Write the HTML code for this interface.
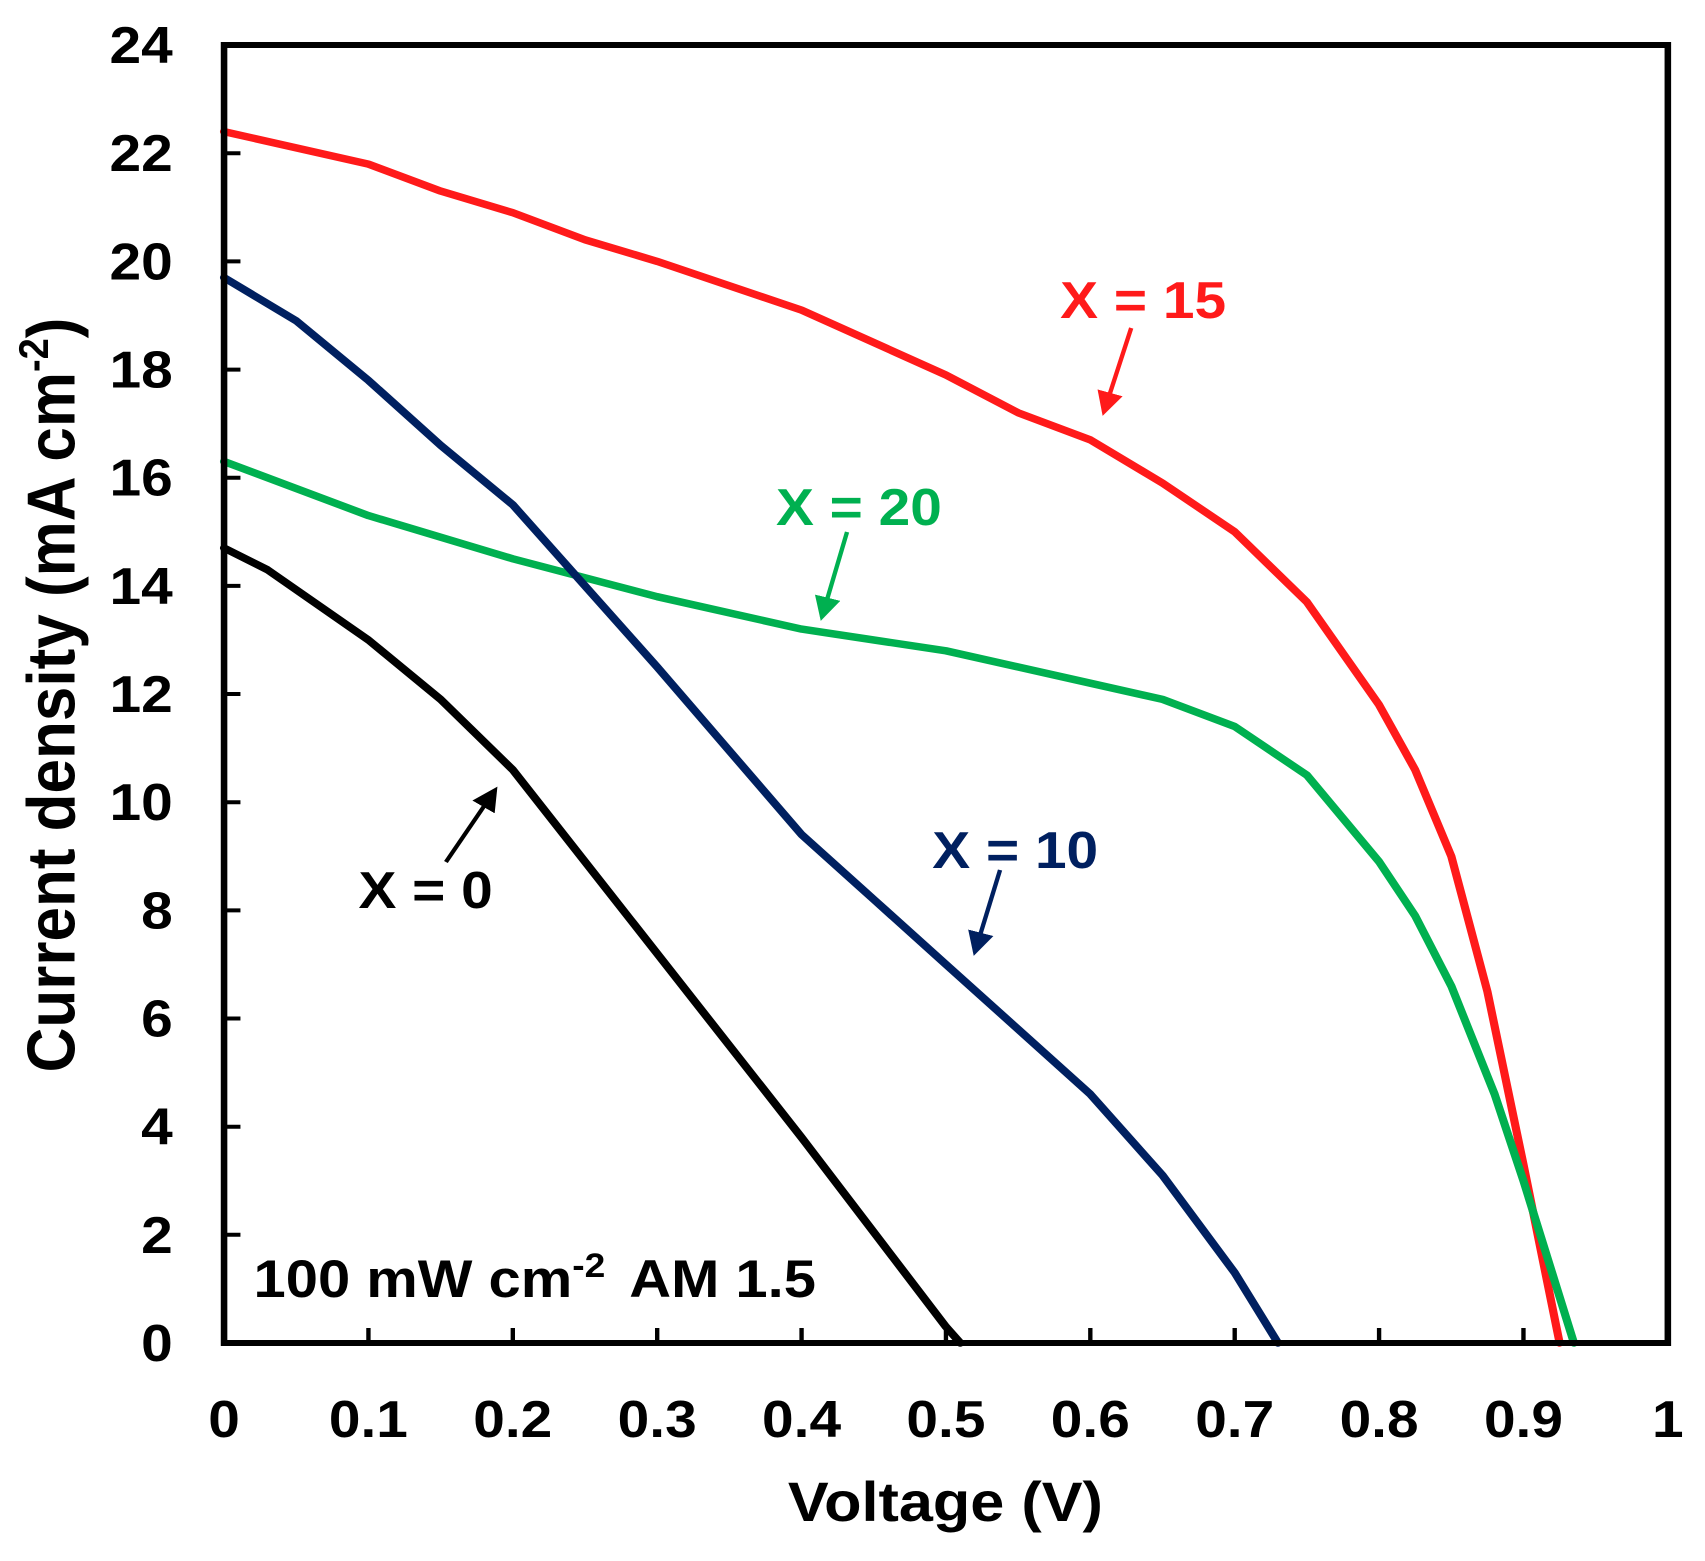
<!DOCTYPE html>
<html><head><style>body{margin:0;background:#fff}svg{display:block}</style></head><body>
<svg width="1705" height="1561" viewBox="0 0 1560 1561" preserveAspectRatio="none" xmlns="http://www.w3.org/2000/svg" font-family="Liberation Sans, Arial, sans-serif" font-weight="bold">
<defs>
<marker id="ak" markerWidth="6" markerHeight="6" refX="5" refY="3" orient="auto" markerUnits="strokeWidth"><path d="M0,0 L6,3 L0,6 z" fill="#000"/></marker>
<marker id="ar" markerWidth="6" markerHeight="6" refX="5" refY="3" orient="auto" markerUnits="strokeWidth"><path d="M0,0 L6,3 L0,6 z" fill="#ff1a1a"/></marker>
<marker id="ag" markerWidth="6" markerHeight="6" refX="5" refY="3" orient="auto" markerUnits="strokeWidth"><path d="M0,0 L6,3 L0,6 z" fill="#00b050"/></marker>
<marker id="ab" markerWidth="6" markerHeight="6" refX="5" refY="3" orient="auto" markerUnits="strokeWidth"><path d="M0,0 L6,3 L0,6 z" fill="#002060"/></marker>
</defs>
<g stroke="#000" stroke-width="4">
<line x1="337.1" y1="1343" x2="337.1" y2="1328"/><line x1="469.2" y1="1343" x2="469.2" y2="1328"/><line x1="601.3" y1="1343" x2="601.3" y2="1328"/><line x1="733.4" y1="1343" x2="733.4" y2="1328"/><line x1="865.5" y1="1343" x2="865.5" y2="1328"/><line x1="997.6" y1="1343" x2="997.6" y2="1328"/><line x1="1129.7" y1="1343" x2="1129.7" y2="1328"/><line x1="1261.8" y1="1343" x2="1261.8" y2="1328"/><line x1="1393.9" y1="1343" x2="1393.9" y2="1328"/>
<line x1="205" y1="1234.8" x2="220" y2="1234.8"/><line x1="205" y1="1126.7" x2="220" y2="1126.7"/><line x1="205" y1="1018.5" x2="220" y2="1018.5"/><line x1="205" y1="910.4" x2="220" y2="910.4"/><line x1="205" y1="802.2" x2="220" y2="802.2"/><line x1="205" y1="694" x2="220" y2="694"/><line x1="205" y1="585.9" x2="220" y2="585.9"/><line x1="205" y1="477.7" x2="220" y2="477.7"/><line x1="205" y1="369.6" x2="220" y2="369.6"/><line x1="205" y1="261.4" x2="220" y2="261.4"/><line x1="205" y1="153.2" x2="220" y2="153.2"/>
</g>
<g fill="none" stroke-width="7.5" stroke-linejoin="round" stroke-linecap="round">
<polyline stroke="#ff1a1a" points="205,131.6 337.1,164.1 403.2,191.1 469.2,212.7 535.3,239.8 601.3,261.4 733.4,310.1 865.5,375 931.6,412.8 997.6,439.9 1063.7,483.1 1129.7,531.8 1195.8,602.1 1261.8,704.9 1294.8,769.8 1327.9,856.3 1360.9,991.5 1393.9,1164.5 1427,1343"/>
<polyline stroke="#00b050" points="205,461.5 337.1,515.6 469.2,558.8 601.3,596.7 733.4,629.1 865.5,650.8 997.6,683.2 1063.7,699.4 1129.7,726.5 1195.8,775.2 1261.8,861.7 1294.8,915.8 1327.9,986.1 1367.5,1094.2 1393.9,1180.8 1440.1,1343"/>
<polyline stroke="#002060" points="205,277.6 271.1,320.9 337.1,380.4 403.2,445.3 469.2,504.8 601.3,667 733.4,834.6 799.5,899.5 865.5,964.4 931.6,1029.3 997.6,1094.2 1063.7,1175.4 1129.7,1272.7 1169.3,1343"/>
<polyline stroke="#000" points="205,548 244.6,569.7 337.1,640 403.2,699.4 469.2,769.8 601.3,953.6 733.4,1137.5 865.5,1326.8 878.7,1343"/>
</g>
<rect x="205" y="45" width="1321" height="1298" fill="none" stroke="#000" stroke-width="6"/>
<g font-size="52" fill="#000" text-anchor="middle">
<text x="205" y="1437">0</text><text x="337.1" y="1437">0.1</text><text x="469.2" y="1437">0.2</text><text x="601.3" y="1437">0.3</text><text x="733.4" y="1437">0.4</text><text x="865.5" y="1437">0.5</text><text x="997.6" y="1437">0.6</text><text x="1129.7" y="1437">0.7</text><text x="1261.8" y="1437">0.8</text><text x="1393.9" y="1437">0.9</text><text x="1526" y="1437">1</text>
</g>
<g font-size="52" fill="#000" text-anchor="end">
<text x="158" y="1361">0</text><text x="158" y="1252.8">2</text><text x="158" y="1144.7">4</text><text x="158" y="1036.5">6</text><text x="158" y="928.4">8</text><text x="158" y="820.2">10</text><text x="158" y="712">12</text><text x="158" y="603.9">14</text><text x="158" y="495.7">16</text><text x="158" y="387.6">18</text><text x="158" y="279.4">20</text><text x="158" y="171.2">22</text><text x="158" y="63.1">24</text>
</g>
<text x="865" y="1521" font-size="56" text-anchor="middle">Voltage (V)</text>
<text transform="translate(68,695) rotate(-90)" font-size="62" text-anchor="middle">Current density (mA cm<tspan font-size="38" dy="-24">-2</tspan><tspan dy="24">)</tspan></text>
<text x="232" y="1297" font-size="53">100 mW cm<tspan font-size="34" dy="-20">-2</tspan><tspan dy="20" dx="22">AM 1.5</tspan></text>
<text x="970" y="318" font-size="52" fill="#ff1a1a">X = 15</text>
<text x="710" y="525" font-size="52" fill="#00b050">X = 20</text>
<text x="853" y="868" font-size="52" fill="#002060">X = 10</text>
<text x="328" y="908" font-size="52" fill="#000">X = 0</text>
<line x1="1035" y1="328" x2="1010" y2="412" stroke="#ff1a1a" stroke-width="4" marker-end="url(#ar)"/>
<line x1="775" y1="532" x2="752" y2="617" stroke="#00b050" stroke-width="4" marker-end="url(#ag)"/>
<line x1="915" y1="870" x2="892" y2="952" stroke="#002060" stroke-width="4" marker-end="url(#ab)"/>
<line x1="408" y1="862" x2="453" y2="790" stroke="#000" stroke-width="4" marker-end="url(#ak)"/>
</svg>
</body></html>
